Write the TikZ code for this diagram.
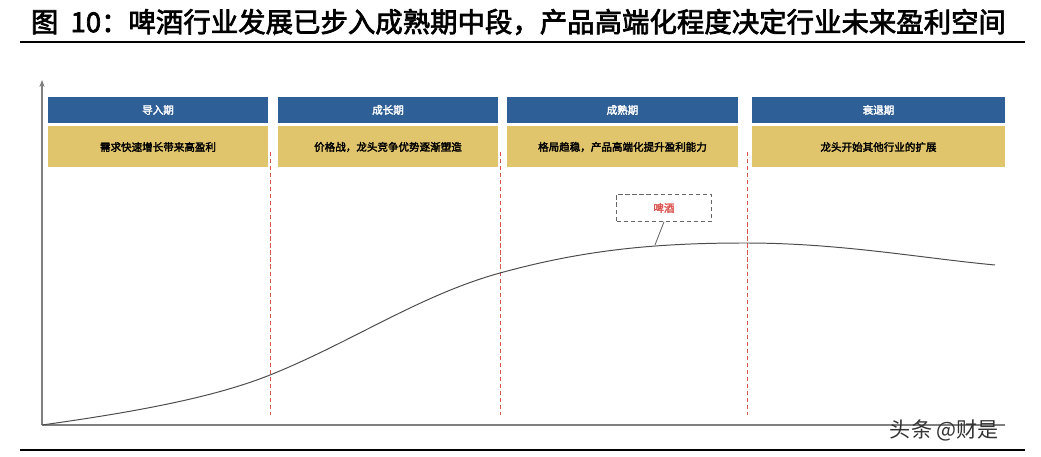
\documentclass[tikz,border=0pt]{standalone}
\usepackage{fontspec}
\setmainfont{Liberation Sans}
\newfontfamily\cjk[AutoFakeBold=2.5]{Noto Sans CJK SC}
\usetikzlibrary{arrows.meta}
\definecolor{hdr}{HTML}{2F5F97}
\definecolor{yel}{HTML}{E1C56D}
\definecolor{rd}{HTML}{D9534F}
\tikzset{
 hfont/.style={font=\cjk\bfseries\fontsize{7.5}{8}\selectfont},
 vsep/.style={rd,densely dashed,line width=0.5pt},
}
\begin{document}
\begin{tikzpicture}[x=0.025cm,y=-0.025cm]
\useasboundingbox (0,0) rectangle (1041,457);
\node[anchor=west,font=\cjk\bfseries\fontsize{19.5}{21}\selectfont] (title) at (26,22) {图\ \ 10：啤酒行业发展已步入成熟期中段，产品高端化程度决定行业未来盈利空间};
\draw[line width=1.2pt] (20,42) -- (1025,42);
\draw[line width=0.8pt] (20,450) -- (1025,450);
\coordinate (o) at (42,425);
\coordinate (yt) at (42,80);
\coordinate (xe) at (1005,425);
\draw[gray,line width=0.8pt,-{Stealth[length=5pt]}] (o) -- (yt);
\draw[gray,line width=0.8pt] (o) -- (xe);
\foreach \n/\a/\b/\t/\s in {1/48/268/导入期/需求快速增长带来高盈利,2/278/498/成长期/价格战，龙头竞争优势逐渐塑造,3/507/738/成熟期/格局趋稳，产品高端化提升盈利能力,4/752/1005/衰退期/龙头开始其他行业的扩展}{
 \path[fill=hdr] (\a,97) rectangle (\b,123);
 \node[hfont,text=white] (h\n) at ({(\a+\b)/2},110) {\t};
 \path[fill=yel] (\a,126) rectangle (\b,167);
 \node[hfont] (y\n) at ({(\a+\b)/2},147) {\s};
}
\foreach \x in {270,500,747}{\draw[vsep] (\x,152) -- (\x,415);}
\draw[black!70,line width=0.7pt] (42,425) .. controls (150,410) and (220,395) .. (270,375)
 .. controls (350,343) and (420,295) .. (500,273)
 .. controls (580,251) and (650,243) .. (745,243)
 .. controls (840,243) and (920,258) .. (995,265);
\node[draw=black!60,densely dashed,minimum width=95*0.025cm,minimum height=27*0.025cm,text=rd,hfont] (beer) at (664,208) {啤酒};
\coordinate (pt) at (655,245);
\draw[black!60,line width=0.6pt] (beer.south) -- (pt);
\node[anchor=west,font=\cjk\fontsize{15}{16}\selectfont,text=black!80] (wm) at (885,430) {头条 @财是};
\end{tikzpicture}
\end{document}
